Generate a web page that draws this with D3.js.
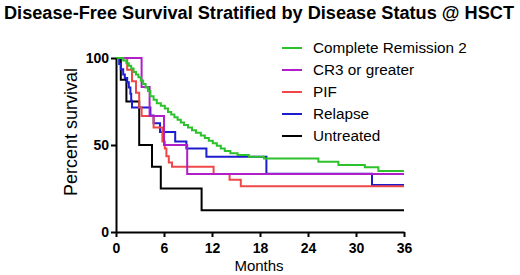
<!DOCTYPE html>
<html>
<head>
<meta charset="utf-8">
<script src="https://cdn.jsdelivr.net/npm/d3@7"></script>
<style>
  body { margin: 0; background: #fff; }
  svg { display: block; font-family: "Liberation Sans", Arial, sans-serif; }
</style>
</head>
<body>
<div id="chart"></div>
<script>
// groups as listed in the legend
const groups = ["Complete Remission 2", "CR3 or greater", "PIF", "Relapse", "Untreated"];
const colours = ["#2ec12e", "#b01fc8", "#f04848", "#1c1cd0", "#000000"];

// step points of each Kaplan-Meier curve (months, percent surviving)
const cr2Months   = [0, 0.9, 1.3, 1.6, 1.9, 2.2, 2.5, 2.8, 3.1, 3.4, 3.7, 4.0, 4.3, 4.7, 5.1, 5.6, 6.1, 6.5, 6.9, 7.3, 7.7, 8.1, 8.5, 9.0, 9.5, 10.0, 10.6, 11.1, 11.6, 12.1, 12.6, 13.1, 13.6, 14.3, 15.2, 16.6, 18.5, 25.3, 27.8, 31.1, 32.8];
const cr2Survival = [100, 98.5, 97, 95.5, 94, 92, 90.5, 89, 87, 85, 83, 81, 78, 76, 74, 72.5, 71, 69, 67.5, 66, 64.5, 63, 61.5, 60, 58.5, 57, 55.5, 54, 52.5, 51, 49.5, 48, 46.5, 45.2, 44.3, 43.3, 42.2, 40.4, 38.5, 37.2, 35.1];

const cr3Months   = [0, 3.2, 4.2, 6.0, 8.9];
const cr3Survival = [100, 83.3, 66.7, 50, 33.3];

const pifMonths   = [0, 1.4, 2.0, 2.5, 2.9, 3.2, 4.7, 5.8, 6.1, 6.3, 6.6, 7.0, 12.2, 14.2, 15.6];
const pifSurvival = [100, 93.3, 86.7, 80, 71.5, 66.7, 60, 52, 48, 43.5, 40, 37.5, 33.3, 30, 26.3];

const relMonths   = [0, 0.4, 0.6, 0.9, 1.1, 1.4, 1.6, 1.8, 1.9, 2.0, 4.3, 4.7, 5.5, 7.4, 8.8, 11.3, 18.8, 32];
const relSurvival = [100, 96.5, 93.5, 90.5, 88.5, 86, 83, 79.5, 75.5, 71.5, 67, 62.5, 57.5, 52, 48, 43.3, 33.5, 27];

const untMonths   = [0, 0.6, 1.3, 2.9, 4.5, 5.6, 10.7];
const untSurvival = [100, 87.5, 75, 50, 37.5, 25, 12.5];

const seriesMonths   = [cr2Months, cr3Months, pifMonths, relMonths, untMonths];
const seriesSurvival = [cr2Survival, cr3Survival, pifSurvival, relSurvival, untSurvival];

const xTicks = [0, 6, 12, 18, 24, 30, 36];
const yTicks = [0, 50, 100];
const followUp = 36;

const width = 520, height = 275;

const svg = d3.select("#chart").append("svg")
    .attr("width", width)
    .attr("height", height);

const x = d3.scaleLinear().domain([0, 36]).range([116, 404]);
const y = d3.scaleLinear().domain([0, 100]).range([232, 58]);

// title
svg.append("text")
    .attr("x", 259)
    .attr("y", 18.5)
    .attr("text-anchor", "middle")
    .attr("font-size", 18)
    .attr("font-weight", "bold")
    .attr("textLength", 510)
    .attr("lengthAdjust", "spacingAndGlyphs")
    .text("Disease-Free Survival Stratified by Disease Status @ HSCT");

// curves, drawn last-to-first so green sits on top
const line = d3.line()
    .x(d => x(d[0]))
    .y(d => y(d[1]))
    .curve(d3.curveStepAfter);

const order = d3.range(groups.length).reverse();
svg.append("g").selectAll("path")
    .data(order)
    .join("path")
    .attr("fill", "none")
    .attr("stroke", i => colours[i])
    .attr("stroke-width", 2)
    .attr("d", i => {
        const pts = seriesMonths[i].map((m, j) => [m, seriesSurvival[i][j]]);
        pts.push([followUp, seriesSurvival[i][seriesSurvival[i].length - 1]]);
        return line(pts);
    });

// axes
const xAxis = svg.append("g")
    .attr("transform", `translate(0,${y(0)})`)
    .call(d3.axisBottom(x).tickValues(xTicks).tickSize(5).tickSizeOuter(0).tickPadding(6));
const yAxis = svg.append("g")
    .attr("transform", `translate(${x(0)},0)`)
    .call(d3.axisLeft(y).tickValues(yTicks).tickSize(5).tickSizeOuter(0).tickPadding(2));

[xAxis, yAxis].forEach(g => {
    g.select(".domain").attr("stroke-width", 2).attr("stroke", "#000");
    g.selectAll(".tick line").attr("stroke-width", 2).attr("stroke", "#000");
    g.selectAll(".tick text")
        .attr("font-size", 14)
        .attr("font-weight", "bold")
        .attr("font-family", "'Liberation Sans', Arial, sans-serif")
        .attr("fill", "#000");
});

svg.append("text")
    .attr("x", 259)
    .attr("y", 271)
    .attr("text-anchor", "middle")
    .attr("font-size", 15)
    .text("Months");

svg.append("text")
    .attr("transform", "translate(77,132) rotate(-90)")
    .attr("text-anchor", "middle")
    .attr("font-size", 18)
    .text("Percent survival");

// legend
const legend = svg.append("g").selectAll("g")
    .data(groups)
    .join("g")
    .attr("transform", (d, i) => `translate(282,${48 + i * 22})`);

legend.append("line")
    .attr("x1", 0).attr("x2", 20)
    .attr("stroke", (d, i) => colours[i])
    .attr("stroke-width", 2);

legend.append("text")
    .attr("x", 31)
    .attr("dy", "0.35em")
    .attr("font-size", 15.3)
    .text(d => d);
</script>
</body>
</html>
